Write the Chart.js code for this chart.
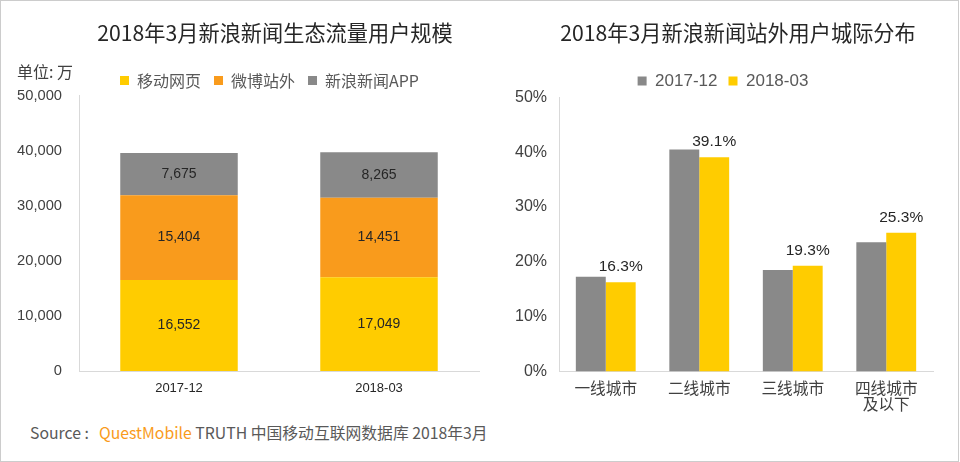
<!DOCTYPE html>
<html>
<head>
<meta charset="utf-8">
<script src="https://cdn.jsdelivr.net/npm/chart.js@4"></script>
<style>
html, body { margin: 0; padding: 0; background: #fff; }
#page { position: relative; width: 959px; height: 462px; box-sizing: border-box; border: 1px solid #ccc; overflow: hidden; }
canvas { position: absolute; top: -1px; }
#unit { position: absolute; left: 16px; top: 59px; font: 16px "Noto Sans CJK SC"; line-height: 22px; color: #404040; }
#source { position: absolute; left: 29px; top: 421px; font: 15.8px "Noto Sans CJK SC"; line-height: 22px; color: #595959; white-space: pre; }
#source span { color: #f99b1c; margin-left: 3px; }
</style>
</head>
<body>
<div id="page">
  <canvas id="left" width="490" height="420" style="left:-1px"></canvas>
  <canvas id="right" width="470" height="420" style="left:489px"></canvas>
  <div id="unit">单位: 万</div>
  <div id="source">Source :  <span>QuestMobile</span> TRUTH 中国移动互联网数据库 2018年3月</div>
</div>
<script>
const leftTitle = '2018年3月新浪新闻生态流量用户规模';
const leftCategories = ['2017-12', '2018-03'];
const mobileWeb = [16552, 17049];
const weiboOutside = [15404, 14451];
const sinaNewsApp = [7675, 8265];

const rightTitle = '2018年3月新浪新闻站外用户城际分布';
const cityTiers = ['一线城市', '二线城市', '三线城市', ['四线城市', '及以下']];
const share201712 = [17.3, 40.5, 18.5, 23.6];
const share201803 = [16.3, 39.1, 19.3, 25.3];

const YELLOW = '#ffcc00';
const ORANGE = '#f99b1c';
const GREY = '#898989';
const SANS = '"Liberation Sans", "Noto Sans CJK SC"';
const CJK = '"Noto Sans CJK SC"';

// moves title and legend off the canvas centre, the reference does not centre them on the plot
const nudgeBlocks = {
    id: 'nudgeBlocks',
    afterLayout(chart, args, opts) {
        chart.titleBlock.left += opts.titleX;
        chart.titleBlock.right += opts.titleX;
        chart.legend.left += opts.legendX;
        chart.legend.right += opts.legendX;
        chart.legend.top += opts.legendY;
        chart.legend.bottom += opts.legendY;
    }
};

const barValues = {
    id: 'barValues',
    afterDatasetsDraw(chart, args, opts) {
        const ctx = chart.ctx;
        ctx.save();
        ctx.font = opts.font;
        ctx.fillStyle = '#262626';
        ctx.textAlign = 'center';
        ctx.textBaseline = 'middle';
        chart.data.datasets.forEach((dataset, i) => {
            if (opts.only !== undefined && opts.only !== i) return;
            chart.getDatasetMeta(i).data.forEach((bar, j) => {
                const y = opts.inside ? (bar.y + bar.base) / 2 : bar.y - opts.gap;
                ctx.fillText(opts.format(dataset.data[j]), bar.x, y);
            });
        });
        ctx.restore();
    }
};

function baseOptions(title, opts) {
    return {
        responsive: false,
        animation: false,
        layout: { padding: { left: 0, right: opts.padRight, top: 0, bottom: 0 } },
        scales: {
            x: {
                stacked: opts.stacked,
                grid: { display: false, drawTicks: false },
                border: { color: '#d9d9d9', width: 1 },
                ticks: { color: opts.xColor, font: opts.xFont, padding: opts.xPad, maxRotation: 0, autoSkip: false },
                afterFit: scale => { scale.height = opts.xHeight; }
            },
            y: {
                stacked: opts.stacked,
                min: 0,
                max: opts.yMax,
                grid: { display: false, drawTicks: false },
                border: { color: '#d9d9d9', width: 1 },
                ticks: { stepSize: opts.yStep, color: '#404040', font: opts.yFont, padding: opts.yPad, callback: opts.yFormat },
                afterFit: scale => { scale.width = opts.yWidth; }
            }
        },
        plugins: {
            title: {
                display: true,
                text: title,
                color: '#262626',
                font: { family: CJK, size: 21.2, weight: 'normal', lineHeight: 1.2 },
                padding: { top: 20, bottom: opts.titleBottom }
            },
            legend: {
                display: true,
                position: 'top',
                labels: {
                    boxWidth: 9,
                    boxHeight: 9,
                    padding: opts.legendPad,
                    color: '#595959',
                    font: { family: opts.legendFamily, size: opts.legendSize }
                }
            },
            tooltip: { enabled: false },
            nudgeBlocks: opts.nudge,
            barValues: opts.values
        }
    };
}

new Chart(document.getElementById('left'), {
    type: 'bar',
    data: {
        labels: leftCategories,
        datasets: [
            { label: '移动网页', data: mobileWeb, backgroundColor: YELLOW, barPercentage: 0.5875, categoryPercentage: 1 },
            { label: '微博站外', data: weiboOutside, backgroundColor: ORANGE, barPercentage: 0.5875, categoryPercentage: 1 },
            { label: '新浪新闻APP', data: sinaNewsApp, backgroundColor: GREY, barPercentage: 0.5875, categoryPercentage: 1 }
        ]
    },
    options: baseOptions(leftTitle, {
        stacked: true,
        padRight: 11,
        yMax: 50000,
        yStep: 10000,
        yWidth: 79,
        yPad: 17,
        yFont: { family: SANS, size: 14.7 },
        yFormat: v => v.toLocaleString('en-US'),
        xColor: '#262626',
        xFont: { family: SANS, size: 13 },
        xPad: 10,
        xHeight: 49,
        titleBottom: 11.5,
        legendPad: 13,
        legendSize: 16,
        legendFamily: CJK,
        nudge: { titleX: 35.5, legendX: 30, legendY: 2.5 },
        values: { font: '14px ' + SANS, inside: true, format: v => v.toLocaleString('en-US') }
    }),
    plugins: [nudgeBlocks, barValues]
});

new Chart(document.getElementById('right'), {
    type: 'bar',
    data: {
        labels: cityTiers,
        datasets: [
            { label: '2017-12', data: share201712, backgroundColor: GREY, barPercentage: 1, categoryPercentage: 0.64 },
            { label: '2018-03', data: share201803, backgroundColor: YELLOW, barPercentage: 1, categoryPercentage: 0.64 }
        ]
    },
    options: baseOptions(rightTitle, {
        stacked: false,
        padRight: 27,
        yMax: 50,
        yStep: 10,
        yWidth: 69,
        yPad: 12,
        yFont: { family: SANS, size: 16 },
        yFormat: v => v + '%',
        xColor: '#404040',
        xFont: { family: CJK, size: 15.7, lineHeight: 1.02 },
        xPad: 9,
        xHeight: 48.5,
        titleBottom: 14,
        legendPad: 11,
        legendSize: 17,
        legendFamily: SANS,
        nudge: { titleX: 26.5, legendX: 11.5, legendY: 2 },
        values: { font: '15.5px ' + SANS, only: 1, gap: 15, format: v => v.toFixed(1) + '%' }
    }),
    plugins: [nudgeBlocks, barValues]
});
</script>
</body>
</html>
